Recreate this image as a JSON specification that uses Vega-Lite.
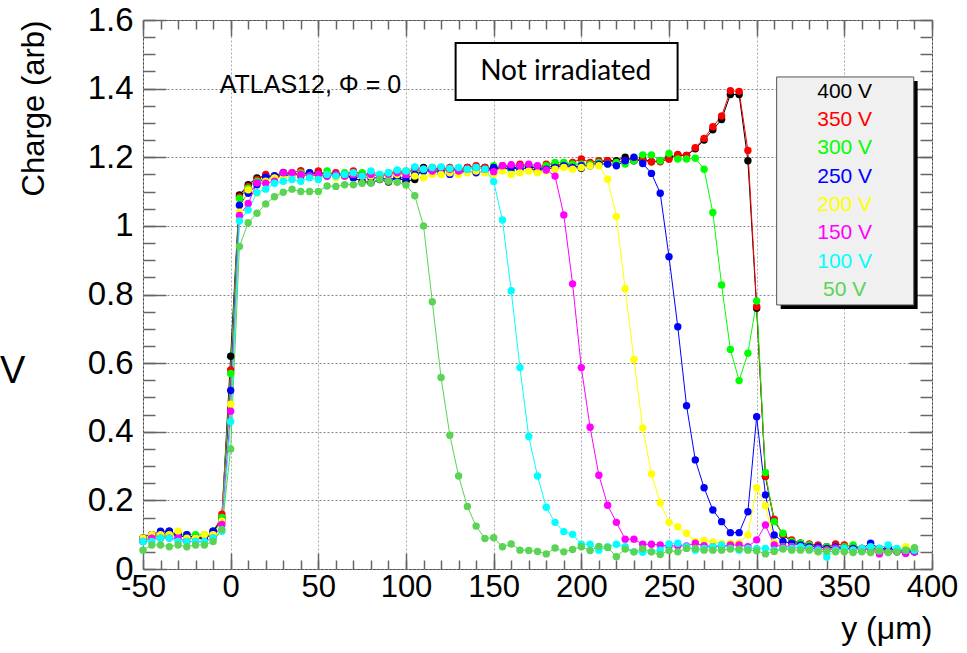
{
"$schema": "https://vega.github.io/schema/vega-lite/v6.json",
"width": 789, "height": 549,
"autosize": "none",
"padding": {"left": 143, "top": 20, "right": 35, "bottom": 84},
"background": "white",
"config": {
  "view": {"stroke": "#444", "strokeWidth": 1},
  "font": "Liberation Sans",
  "axis": {"labelFont": "Liberation Sans", "titleFont": "Liberation Sans", "labelColor": "#000", "titleColor": "#000", "tickColor": "#666", "tickWidth": 1.5, "domain": false}
},
"datasets": {"main": [
{"s":"400 V","x":-50,"c":0.09},{"s":"400 V","x":-45,"c":0.10},{"s":"400 V","x":-40,"c":0.10},{"s":"400 V","x":-35,"c":0.11},{"s":"400 V","x":-30,"c":0.10},{"s":"400 V","x":-25,"c":0.09},{"s":"400 V","x":-20,"c":0.09},{"s":"400 V","x":-15,"c":0.09},{"s":"400 V","x":-10,"c":0.11},{"s":"400 V","x":-5,"c":0.15},
{"s":"400 V","x":0,"c":0.62},{"s":"400 V","x":5,"c":1.09},{"s":"400 V","x":10,"c":1.12},{"s":"400 V","x":15,"c":1.14},{"s":"400 V","x":20,"c":1.145},{"s":"400 V","x":25,"c":1.145},{"s":"400 V","x":30,"c":1.156},{"s":"400 V","x":35,"c":1.15},{"s":"400 V","x":40,"c":1.145},{"s":"400 V","x":45,"c":1.15},
{"s":"400 V","x":50,"c":1.155},{"s":"400 V","x":55,"c":1.15},{"s":"400 V","x":60,"c":1.145},{"s":"400 V","x":65,"c":1.15},{"s":"400 V","x":70,"c":1.14},{"s":"400 V","x":75,"c":1.13},{"s":"400 V","x":80,"c":1.126},{"s":"400 V","x":85,"c":1.135},{"s":"400 V","x":90,"c":1.128},{"s":"400 V","x":95,"c":1.14},
{"s":"400 V","x":100,"c":1.13},{"s":"400 V","x":105,"c":1.135},{"s":"400 V","x":110,"c":1.17},{"s":"400 V","x":115,"c":1.16},{"s":"400 V","x":120,"c":1.165},{"s":"400 V","x":125,"c":1.16},{"s":"400 V","x":130,"c":1.165},{"s":"400 V","x":135,"c":1.17},{"s":"400 V","x":140,"c":1.165},{"s":"400 V","x":145,"c":1.17},
{"s":"400 V","x":150,"c":1.165},{"s":"400 V","x":155,"c":1.17},{"s":"400 V","x":160,"c":1.165},{"s":"400 V","x":165,"c":1.175},{"s":"400 V","x":170,"c":1.17},{"s":"400 V","x":175,"c":1.158},{"s":"400 V","x":180,"c":1.17},{"s":"400 V","x":185,"c":1.175},{"s":"400 V","x":190,"c":1.18},{"s":"400 V","x":195,"c":1.175},
{"s":"400 V","x":200,"c":1.168},{"s":"400 V","x":205,"c":1.18},{"s":"400 V","x":210,"c":1.185},{"s":"400 V","x":215,"c":1.19},{"s":"400 V","x":220,"c":1.19},{"s":"400 V","x":225,"c":1.2},{"s":"400 V","x":230,"c":1.19},{"s":"400 V","x":235,"c":1.195},{"s":"400 V","x":240,"c":1.187},{"s":"400 V","x":245,"c":1.19},
{"s":"400 V","x":250,"c":1.2},{"s":"400 V","x":255,"c":1.206},{"s":"400 V","x":260,"c":1.205},{"s":"400 V","x":265,"c":1.225},{"s":"400 V","x":270,"c":1.25},{"s":"400 V","x":275,"c":1.28},{"s":"400 V","x":280,"c":1.31},{"s":"400 V","x":285,"c":1.383},{"s":"400 V","x":290,"c":1.383},{"s":"400 V","x":295,"c":1.19},
{"s":"400 V","x":300,"c":0.76},{"s":"400 V","x":305,"c":0.27},{"s":"400 V","x":310,"c":0.14},{"s":"400 V","x":315,"c":0.10},{"s":"400 V","x":320,"c":0.08},{"s":"400 V","x":325,"c":0.075},{"s":"400 V","x":330,"c":0.07},{"s":"400 V","x":335,"c":0.065},{"s":"400 V","x":340,"c":0.065},{"s":"400 V","x":345,"c":0.06},
{"s":"400 V","x":350,"c":0.06},{"s":"400 V","x":355,"c":0.06},{"s":"400 V","x":360,"c":0.055},{"s":"400 V","x":365,"c":0.06},{"s":"400 V","x":370,"c":0.055},{"s":"400 V","x":375,"c":0.055},{"s":"400 V","x":380,"c":0.05},{"s":"400 V","x":385,"c":0.055},{"s":"400 V","x":390,"c":0.05},

{"s":"350 V","x":-50,"c":0.09},{"s":"350 V","x":-45,"c":0.10},{"s":"350 V","x":-40,"c":0.10},{"s":"350 V","x":-35,"c":0.10},{"s":"350 V","x":-30,"c":0.10},{"s":"350 V","x":-25,"c":0.10},{"s":"350 V","x":-20,"c":0.09},{"s":"350 V","x":-15,"c":0.09},{"s":"350 V","x":-10,"c":0.10},{"s":"350 V","x":-5,"c":0.16},
{"s":"350 V","x":0,"c":0.58},{"s":"350 V","x":5,"c":1.085},{"s":"350 V","x":10,"c":1.115},{"s":"350 V","x":15,"c":1.135},{"s":"350 V","x":20,"c":1.15},{"s":"350 V","x":25,"c":1.14},{"s":"350 V","x":30,"c":1.15},{"s":"350 V","x":35,"c":1.155},{"s":"350 V","x":40,"c":1.161},{"s":"350 V","x":45,"c":1.15},
{"s":"350 V","x":50,"c":1.16},{"s":"350 V","x":55,"c":1.15},{"s":"350 V","x":60,"c":1.155},{"s":"350 V","x":65,"c":1.15},{"s":"350 V","x":70,"c":1.16},{"s":"350 V","x":75,"c":1.15},{"s":"350 V","x":80,"c":1.15},{"s":"350 V","x":85,"c":1.145},{"s":"350 V","x":90,"c":1.15},{"s":"350 V","x":95,"c":1.16},
{"s":"350 V","x":100,"c":1.155},{"s":"350 V","x":105,"c":1.165},{"s":"350 V","x":110,"c":1.16},{"s":"350 V","x":115,"c":1.17},{"s":"350 V","x":120,"c":1.165},{"s":"350 V","x":125,"c":1.17},{"s":"350 V","x":130,"c":1.165},{"s":"350 V","x":135,"c":1.17},{"s":"350 V","x":140,"c":1.175},{"s":"350 V","x":145,"c":1.17},
{"s":"350 V","x":150,"c":1.165},{"s":"350 V","x":155,"c":1.175},{"s":"350 V","x":160,"c":1.17},{"s":"350 V","x":165,"c":1.18},{"s":"350 V","x":170,"c":1.175},{"s":"350 V","x":175,"c":1.17},{"s":"350 V","x":180,"c":1.18},{"s":"350 V","x":185,"c":1.18},{"s":"350 V","x":190,"c":1.175},{"s":"350 V","x":195,"c":1.185},
{"s":"350 V","x":200,"c":1.195},{"s":"350 V","x":205,"c":1.185},{"s":"350 V","x":210,"c":1.19},{"s":"350 V","x":215,"c":1.19},{"s":"350 V","x":220,"c":1.185},{"s":"350 V","x":225,"c":1.19},{"s":"350 V","x":230,"c":1.195},{"s":"350 V","x":235,"c":1.19},{"s":"350 V","x":240,"c":1.187},{"s":"350 V","x":245,"c":1.187},
{"s":"350 V","x":250,"c":1.194},{"s":"350 V","x":255,"c":1.208},{"s":"350 V","x":260,"c":1.205},{"s":"350 V","x":265,"c":1.228},{"s":"350 V","x":270,"c":1.255},{"s":"350 V","x":275,"c":1.289},{"s":"350 V","x":280,"c":1.32},{"s":"350 V","x":285,"c":1.394},{"s":"350 V","x":290,"c":1.392},{"s":"350 V","x":295,"c":1.22},
{"s":"350 V","x":300,"c":0.765},{"s":"350 V","x":305,"c":0.27},{"s":"350 V","x":310,"c":0.145},{"s":"350 V","x":315,"c":0.10},{"s":"350 V","x":320,"c":0.085},{"s":"350 V","x":325,"c":0.075},{"s":"350 V","x":330,"c":0.073},{"s":"350 V","x":335,"c":0.07},{"s":"350 V","x":340,"c":0.065},{"s":"350 V","x":345,"c":0.073},
{"s":"350 V","x":350,"c":0.07},{"s":"350 V","x":355,"c":0.065},{"s":"350 V","x":360,"c":0.06},{"s":"350 V","x":365,"c":0.06},{"s":"350 V","x":370,"c":0.055},{"s":"350 V","x":375,"c":0.06},{"s":"350 V","x":380,"c":0.055},{"s":"350 V","x":385,"c":0.05},{"s":"350 V","x":390,"c":0.055},

{"s":"300 V","x":-50,"c":0.08},{"s":"300 V","x":-45,"c":0.10},{"s":"300 V","x":-40,"c":0.09},{"s":"300 V","x":-35,"c":0.10},{"s":"300 V","x":-30,"c":0.10},{"s":"300 V","x":-25,"c":0.10},{"s":"300 V","x":-20,"c":0.10},{"s":"300 V","x":-15,"c":0.10},{"s":"300 V","x":-10,"c":0.10},{"s":"300 V","x":-5,"c":0.15},
{"s":"300 V","x":0,"c":0.57},{"s":"300 V","x":5,"c":1.08},{"s":"300 V","x":10,"c":1.11},{"s":"300 V","x":15,"c":1.13},{"s":"300 V","x":20,"c":1.14},{"s":"300 V","x":25,"c":1.145},{"s":"300 V","x":30,"c":1.15},{"s":"300 V","x":35,"c":1.15},{"s":"300 V","x":40,"c":1.155},{"s":"300 V","x":45,"c":1.155},
{"s":"300 V","x":50,"c":1.15},{"s":"300 V","x":55,"c":1.16},{"s":"300 V","x":60,"c":1.15},{"s":"300 V","x":65,"c":1.155},{"s":"300 V","x":70,"c":1.15},{"s":"300 V","x":75,"c":1.155},{"s":"300 V","x":80,"c":1.15},{"s":"300 V","x":85,"c":1.15},{"s":"300 V","x":90,"c":1.155},{"s":"300 V","x":95,"c":1.15},
{"s":"300 V","x":100,"c":1.16},{"s":"300 V","x":105,"c":1.155},{"s":"300 V","x":110,"c":1.16},{"s":"300 V","x":115,"c":1.165},{"s":"300 V","x":120,"c":1.16},{"s":"300 V","x":125,"c":1.165},{"s":"300 V","x":130,"c":1.16},{"s":"300 V","x":135,"c":1.165},{"s":"300 V","x":140,"c":1.17},{"s":"300 V","x":145,"c":1.165},
{"s":"300 V","x":150,"c":1.175},{"s":"300 V","x":155,"c":1.17},{"s":"300 V","x":160,"c":1.165},{"s":"300 V","x":165,"c":1.17},{"s":"300 V","x":170,"c":1.175},{"s":"300 V","x":175,"c":1.17},{"s":"300 V","x":180,"c":1.175},{"s":"300 V","x":185,"c":1.185},{"s":"300 V","x":190,"c":1.185},{"s":"300 V","x":195,"c":1.18},
{"s":"300 V","x":200,"c":1.18},{"s":"300 V","x":205,"c":1.18},{"s":"300 V","x":210,"c":1.185},{"s":"300 V","x":215,"c":1.18},{"s":"300 V","x":220,"c":1.185},{"s":"300 V","x":225,"c":1.18},{"s":"300 V","x":230,"c":1.19},{"s":"300 V","x":235,"c":1.207},{"s":"300 V","x":240,"c":1.207},{"s":"300 V","x":245,"c":1.19},
{"s":"300 V","x":250,"c":1.211},{"s":"300 V","x":255,"c":1.195},{"s":"300 V","x":260,"c":1.195},{"s":"300 V","x":265,"c":1.197},{"s":"300 V","x":270,"c":1.165},{"s":"300 V","x":275,"c":1.039},{"s":"300 V","x":280,"c":0.828},{"s":"300 V","x":285,"c":0.64},{"s":"300 V","x":290,"c":0.549},{"s":"300 V","x":295,"c":0.629},
{"s":"300 V","x":300,"c":0.781},{"s":"300 V","x":305,"c":0.281},{"s":"300 V","x":310,"c":0.138},{"s":"300 V","x":315,"c":0.104},{"s":"300 V","x":320,"c":0.08},{"s":"300 V","x":325,"c":0.075},{"s":"300 V","x":330,"c":0.07},{"s":"300 V","x":335,"c":0.065},{"s":"300 V","x":340,"c":0.065},{"s":"300 V","x":345,"c":0.065},
{"s":"300 V","x":350,"c":0.065},{"s":"300 V","x":355,"c":0.07},{"s":"300 V","x":360,"c":0.06},{"s":"300 V","x":365,"c":0.06},{"s":"300 V","x":370,"c":0.055},{"s":"300 V","x":375,"c":0.055},{"s":"300 V","x":380,"c":0.055},{"s":"300 V","x":385,"c":0.05},{"s":"300 V","x":390,"c":0.05},

{"s":"250 V","x":-50,"c":0.09},{"s":"250 V","x":-45,"c":0.10},{"s":"250 V","x":-40,"c":0.11},{"s":"250 V","x":-35,"c":0.11},{"s":"250 V","x":-30,"c":0.10},{"s":"250 V","x":-25,"c":0.10},{"s":"250 V","x":-20,"c":0.09},{"s":"250 V","x":-15,"c":0.09},{"s":"250 V","x":-10,"c":0.11},{"s":"250 V","x":-5,"c":0.14},
{"s":"250 V","x":0,"c":0.52},{"s":"250 V","x":5,"c":1.06},{"s":"250 V","x":10,"c":1.095},{"s":"250 V","x":15,"c":1.12},{"s":"250 V","x":20,"c":1.142},{"s":"250 V","x":25,"c":1.146},{"s":"250 V","x":30,"c":1.145},{"s":"250 V","x":35,"c":1.15},{"s":"250 V","x":40,"c":1.15},{"s":"250 V","x":45,"c":1.155},
{"s":"250 V","x":50,"c":1.15},{"s":"250 V","x":55,"c":1.145},{"s":"250 V","x":60,"c":1.15},{"s":"250 V","x":65,"c":1.145},{"s":"250 V","x":70,"c":1.14},{"s":"250 V","x":75,"c":1.145},{"s":"250 V","x":80,"c":1.14},{"s":"250 V","x":85,"c":1.14},{"s":"250 V","x":90,"c":1.135},{"s":"250 V","x":95,"c":1.14},
{"s":"250 V","x":100,"c":1.14},{"s":"250 V","x":105,"c":1.15},{"s":"250 V","x":110,"c":1.16},{"s":"250 V","x":115,"c":1.16},{"s":"250 V","x":120,"c":1.155},{"s":"250 V","x":125,"c":1.15},{"s":"250 V","x":130,"c":1.155},{"s":"250 V","x":135,"c":1.16},{"s":"250 V","x":140,"c":1.155},{"s":"250 V","x":145,"c":1.16},
{"s":"250 V","x":150,"c":1.17},{"s":"250 V","x":155,"c":1.165},{"s":"250 V","x":160,"c":1.17},{"s":"250 V","x":165,"c":1.165},{"s":"250 V","x":170,"c":1.17},{"s":"250 V","x":175,"c":1.17},{"s":"250 V","x":180,"c":1.165},{"s":"250 V","x":185,"c":1.17},{"s":"250 V","x":190,"c":1.175},{"s":"250 V","x":195,"c":1.17},
{"s":"250 V","x":200,"c":1.175},{"s":"250 V","x":205,"c":1.175},{"s":"250 V","x":210,"c":1.18},{"s":"250 V","x":215,"c":1.18},{"s":"250 V","x":220,"c":1.175},{"s":"250 V","x":225,"c":1.19},{"s":"250 V","x":230,"c":1.2},{"s":"250 V","x":235,"c":1.182},{"s":"250 V","x":240,"c":1.153},{"s":"250 V","x":245,"c":1.095},
{"s":"250 V","x":250,"c":0.91},{"s":"250 V","x":255,"c":0.706},{"s":"250 V","x":260,"c":0.476},{"s":"250 V","x":265,"c":0.318},{"s":"250 V","x":270,"c":0.237},{"s":"250 V","x":275,"c":0.172},{"s":"250 V","x":280,"c":0.138},{"s":"250 V","x":285,"c":0.106},{"s":"250 V","x":290,"c":0.106},{"s":"250 V","x":295,"c":0.167},
{"s":"250 V","x":300,"c":0.444},{"s":"250 V","x":305,"c":0.216},{"s":"250 V","x":310,"c":0.099},{"s":"250 V","x":315,"c":0.08},{"s":"250 V","x":320,"c":0.075},{"s":"250 V","x":325,"c":0.07},{"s":"250 V","x":330,"c":0.065},{"s":"250 V","x":335,"c":0.065},{"s":"250 V","x":340,"c":0.06},{"s":"250 V","x":345,"c":0.065},
{"s":"250 V","x":350,"c":0.06},{"s":"250 V","x":355,"c":0.06},{"s":"250 V","x":360,"c":0.06},{"s":"250 V","x":365,"c":0.075},{"s":"250 V","x":370,"c":0.06},{"s":"250 V","x":375,"c":0.06},{"s":"250 V","x":380,"c":0.055},{"s":"250 V","x":385,"c":0.055},{"s":"250 V","x":390,"c":0.05},

{"s":"200 V","x":-50,"c":0.09},{"s":"200 V","x":-45,"c":0.10},{"s":"200 V","x":-40,"c":0.10},{"s":"200 V","x":-35,"c":0.10},{"s":"200 V","x":-30,"c":0.11},{"s":"200 V","x":-25,"c":0.09},{"s":"200 V","x":-20,"c":0.09},{"s":"200 V","x":-15,"c":0.10},{"s":"200 V","x":-10,"c":0.10},{"s":"200 V","x":-5,"c":0.14},
{"s":"200 V","x":0,"c":0.48},{"s":"200 V","x":5,"c":1.04},{"s":"200 V","x":10,"c":1.105},{"s":"200 V","x":15,"c":1.095},{"s":"200 V","x":20,"c":1.13},{"s":"200 V","x":25,"c":1.14},{"s":"200 V","x":30,"c":1.14},{"s":"200 V","x":35,"c":1.145},{"s":"200 V","x":40,"c":1.15},{"s":"200 V","x":45,"c":1.145},
{"s":"200 V","x":50,"c":1.14},{"s":"200 V","x":55,"c":1.15},{"s":"200 V","x":60,"c":1.14},{"s":"200 V","x":65,"c":1.145},{"s":"200 V","x":70,"c":1.15},{"s":"200 V","x":75,"c":1.145},{"s":"200 V","x":80,"c":1.145},{"s":"200 V","x":85,"c":1.15},{"s":"200 V","x":90,"c":1.145},{"s":"200 V","x":95,"c":1.15},
{"s":"200 V","x":100,"c":1.15},{"s":"200 V","x":105,"c":1.145},{"s":"200 V","x":110,"c":1.14},{"s":"200 V","x":115,"c":1.15},{"s":"200 V","x":120,"c":1.15},{"s":"200 V","x":125,"c":1.155},{"s":"200 V","x":130,"c":1.15},{"s":"200 V","x":135,"c":1.155},{"s":"200 V","x":140,"c":1.16},{"s":"200 V","x":145,"c":1.155},
{"s":"200 V","x":150,"c":1.15},{"s":"200 V","x":155,"c":1.16},{"s":"200 V","x":160,"c":1.15},{"s":"200 V","x":165,"c":1.155},{"s":"200 V","x":170,"c":1.16},{"s":"200 V","x":175,"c":1.155},{"s":"200 V","x":180,"c":1.16},{"s":"200 V","x":185,"c":1.165},{"s":"200 V","x":190,"c":1.17},{"s":"200 V","x":195,"c":1.165},
{"s":"200 V","x":200,"c":1.17},{"s":"200 V","x":205,"c":1.175},{"s":"200 V","x":210,"c":1.175},{"s":"200 V","x":215,"c":1.136},{"s":"200 V","x":220,"c":1.027},{"s":"200 V","x":225,"c":0.817},{"s":"200 V","x":230,"c":0.611},{"s":"200 V","x":235,"c":0.411},{"s":"200 V","x":240,"c":0.277},{"s":"200 V","x":245,"c":0.193},
{"s":"200 V","x":250,"c":0.136},{"s":"200 V","x":255,"c":0.123},{"s":"200 V","x":260,"c":0.104},{"s":"200 V","x":265,"c":0.08},{"s":"200 V","x":270,"c":0.083},{"s":"200 V","x":275,"c":0.079},{"s":"200 V","x":280,"c":0.075},{"s":"200 V","x":285,"c":0.075},{"s":"200 V","x":290,"c":0.076},{"s":"200 V","x":295,"c":0.099},
{"s":"200 V","x":300,"c":0.237},{"s":"200 V","x":305,"c":0.184},{"s":"200 V","x":310,"c":0.076},{"s":"200 V","x":315,"c":0.065},{"s":"200 V","x":320,"c":0.065},{"s":"200 V","x":325,"c":0.06},{"s":"200 V","x":330,"c":0.06},{"s":"200 V","x":335,"c":0.055},{"s":"200 V","x":340,"c":0.055},{"s":"200 V","x":345,"c":0.06},
{"s":"200 V","x":350,"c":0.055},{"s":"200 V","x":355,"c":0.055},{"s":"200 V","x":360,"c":0.06},{"s":"200 V","x":365,"c":0.055},{"s":"200 V","x":370,"c":0.055},{"s":"200 V","x":375,"c":0.05},{"s":"200 V","x":380,"c":0.055},{"s":"200 V","x":385,"c":0.065},{"s":"200 V","x":390,"c":0.06},

{"s":"150 V","x":-50,"c":0.08},{"s":"150 V","x":-45,"c":0.09},{"s":"150 V","x":-40,"c":0.09},{"s":"150 V","x":-35,"c":0.09},{"s":"150 V","x":-30,"c":0.09},{"s":"150 V","x":-25,"c":0.08},{"s":"150 V","x":-20,"c":0.08},{"s":"150 V","x":-15,"c":0.08},{"s":"150 V","x":-10,"c":0.09},{"s":"150 V","x":-5,"c":0.13},
{"s":"150 V","x":0,"c":0.46},{"s":"150 V","x":5,"c":1.03},{"s":"150 V","x":10,"c":1.065},{"s":"150 V","x":15,"c":1.125},{"s":"150 V","x":20,"c":1.124},{"s":"150 V","x":25,"c":1.13},{"s":"150 V","x":30,"c":1.155},{"s":"150 V","x":35,"c":1.155},{"s":"150 V","x":40,"c":1.15},{"s":"150 V","x":45,"c":1.145},
{"s":"150 V","x":50,"c":1.15},{"s":"150 V","x":55,"c":1.145},{"s":"150 V","x":60,"c":1.15},{"s":"150 V","x":65,"c":1.145},{"s":"150 V","x":70,"c":1.15},{"s":"150 V","x":75,"c":1.145},{"s":"150 V","x":80,"c":1.15},{"s":"150 V","x":85,"c":1.145},{"s":"150 V","x":90,"c":1.15},{"s":"150 V","x":95,"c":1.155},
{"s":"150 V","x":100,"c":1.15},{"s":"150 V","x":105,"c":1.17},{"s":"150 V","x":110,"c":1.165},{"s":"150 V","x":115,"c":1.16},{"s":"150 V","x":120,"c":1.17},{"s":"150 V","x":125,"c":1.165},{"s":"150 V","x":130,"c":1.16},{"s":"150 V","x":135,"c":1.165},{"s":"150 V","x":140,"c":1.17},{"s":"150 V","x":145,"c":1.165},
{"s":"150 V","x":150,"c":1.158},{"s":"150 V","x":155,"c":1.175},{"s":"150 V","x":160,"c":1.178},{"s":"150 V","x":165,"c":1.175},{"s":"150 V","x":170,"c":1.18},{"s":"150 V","x":175,"c":1.175},{"s":"150 V","x":180,"c":1.163},{"s":"150 V","x":185,"c":1.145},{"s":"150 V","x":190,"c":1.032},{"s":"150 V","x":195,"c":0.831},
{"s":"150 V","x":200,"c":0.587},{"s":"150 V","x":205,"c":0.413},{"s":"150 V","x":210,"c":0.273},{"s":"150 V","x":215,"c":0.186},{"s":"150 V","x":220,"c":0.136},{"s":"150 V","x":225,"c":0.087},{"s":"150 V","x":230,"c":0.087},{"s":"150 V","x":235,"c":0.072},{"s":"150 V","x":240,"c":0.072},{"s":"150 V","x":245,"c":0.07},
{"s":"150 V","x":250,"c":0.067},{"s":"150 V","x":255,"c":0.068},{"s":"150 V","x":260,"c":0.067},{"s":"150 V","x":265,"c":0.075},{"s":"150 V","x":270,"c":0.068},{"s":"150 V","x":275,"c":0.065},{"s":"150 V","x":280,"c":0.066},{"s":"150 V","x":285,"c":0.07},{"s":"150 V","x":290,"c":0.07},{"s":"150 V","x":295,"c":0.065},
{"s":"150 V","x":300,"c":0.085},{"s":"150 V","x":305,"c":0.128},{"s":"150 V","x":310,"c":0.07},{"s":"150 V","x":315,"c":0.065},{"s":"150 V","x":320,"c":0.065},{"s":"150 V","x":325,"c":0.06},{"s":"150 V","x":330,"c":0.06},{"s":"150 V","x":335,"c":0.06},{"s":"150 V","x":340,"c":0.055},{"s":"150 V","x":345,"c":0.06},
{"s":"150 V","x":350,"c":0.06},{"s":"150 V","x":355,"c":0.055},{"s":"150 V","x":360,"c":0.06},{"s":"150 V","x":365,"c":0.055},{"s":"150 V","x":370,"c":0.044},{"s":"150 V","x":375,"c":0.05},{"s":"150 V","x":380,"c":0.05},{"s":"150 V","x":385,"c":0.045},{"s":"150 V","x":390,"c":0.05},

{"s":"100 V","x":-50,"c":0.08},{"s":"100 V","x":-45,"c":0.08},{"s":"100 V","x":-40,"c":0.09},{"s":"100 V","x":-35,"c":0.09},{"s":"100 V","x":-30,"c":0.08},{"s":"100 V","x":-25,"c":0.08},{"s":"100 V","x":-20,"c":0.08},{"s":"100 V","x":-15,"c":0.08},{"s":"100 V","x":-10,"c":0.09},{"s":"100 V","x":-5,"c":0.11},
{"s":"100 V","x":0,"c":0.43},{"s":"100 V","x":5,"c":1.014},{"s":"100 V","x":10,"c":1.046},{"s":"100 V","x":15,"c":1.097},{"s":"100 V","x":20,"c":1.107},{"s":"100 V","x":25,"c":1.124},{"s":"100 V","x":30,"c":1.13},{"s":"100 V","x":35,"c":1.135},{"s":"100 V","x":40,"c":1.13},{"s":"100 V","x":45,"c":1.14},
{"s":"100 V","x":50,"c":1.135},{"s":"100 V","x":55,"c":1.15},{"s":"100 V","x":60,"c":1.145},{"s":"100 V","x":65,"c":1.15},{"s":"100 V","x":70,"c":1.155},{"s":"100 V","x":75,"c":1.145},{"s":"100 V","x":80,"c":1.16},{"s":"100 V","x":85,"c":1.15},{"s":"100 V","x":90,"c":1.155},{"s":"100 V","x":95,"c":1.163},
{"s":"100 V","x":100,"c":1.16},{"s":"100 V","x":105,"c":1.172},{"s":"100 V","x":110,"c":1.165},{"s":"100 V","x":115,"c":1.17},{"s":"100 V","x":120,"c":1.172},{"s":"100 V","x":125,"c":1.167},{"s":"100 V","x":130,"c":1.17},{"s":"100 V","x":135,"c":1.165},{"s":"100 V","x":140,"c":1.17},{"s":"100 V","x":145,"c":1.165},
{"s":"100 V","x":150,"c":1.129},{"s":"100 V","x":155,"c":1.017},{"s":"100 V","x":160,"c":0.811},{"s":"100 V","x":165,"c":0.587},{"s":"100 V","x":170,"c":0.386},{"s":"100 V","x":175,"c":0.271},{"s":"100 V","x":180,"c":0.18},{"s":"100 V","x":185,"c":0.136},{"s":"100 V","x":190,"c":0.109},{"s":"100 V","x":195,"c":0.101},
{"s":"100 V","x":200,"c":0.072},{"s":"100 V","x":205,"c":0.072},{"s":"100 V","x":210,"c":0.055},{"s":"100 V","x":215,"c":0.065},{"s":"100 V","x":220,"c":0.072},{"s":"100 V","x":225,"c":0.065},{"s":"100 V","x":230,"c":0.05},{"s":"100 V","x":235,"c":0.049},{"s":"100 V","x":240,"c":0.05},{"s":"100 V","x":245,"c":0.055},
{"s":"100 V","x":250,"c":0.073},{"s":"100 V","x":255,"c":0.075},{"s":"100 V","x":260,"c":0.065},{"s":"100 V","x":265,"c":0.055},{"s":"100 V","x":270,"c":0.06},{"s":"100 V","x":275,"c":0.065},{"s":"100 V","x":280,"c":0.07},{"s":"100 V","x":285,"c":0.06},{"s":"100 V","x":290,"c":0.055},{"s":"100 V","x":295,"c":0.06},
{"s":"100 V","x":300,"c":0.06},{"s":"100 V","x":305,"c":0.06},{"s":"100 V","x":310,"c":0.055},{"s":"100 V","x":315,"c":0.06},{"s":"100 V","x":320,"c":0.06},{"s":"100 V","x":325,"c":0.065},{"s":"100 V","x":330,"c":0.06},{"s":"100 V","x":335,"c":0.055},{"s":"100 V","x":340,"c":0.035},{"s":"100 V","x":345,"c":0.055},
{"s":"100 V","x":350,"c":0.06},{"s":"100 V","x":355,"c":0.055},{"s":"100 V","x":360,"c":0.06},{"s":"100 V","x":365,"c":0.065},{"s":"100 V","x":370,"c":0.06},{"s":"100 V","x":375,"c":0.07},{"s":"100 V","x":380,"c":0.06},{"s":"100 V","x":385,"c":0.055},{"s":"100 V","x":390,"c":0.055},

{"s":"50 V","x":-50,"c":0.055},{"s":"50 V","x":-45,"c":0.07},{"s":"50 V","x":-40,"c":0.07},{"s":"50 V","x":-35,"c":0.065},{"s":"50 V","x":-30,"c":0.07},{"s":"50 V","x":-25,"c":0.065},{"s":"50 V","x":-20,"c":0.07},{"s":"50 V","x":-15,"c":0.07},{"s":"50 V","x":-10,"c":0.08},{"s":"50 V","x":-5,"c":0.115},
{"s":"50 V","x":0,"c":0.35},{"s":"50 V","x":5,"c":0.94},{"s":"50 V","x":10,"c":1.009},{"s":"50 V","x":15,"c":1.037},{"s":"50 V","x":20,"c":1.064},{"s":"50 V","x":25,"c":1.085},{"s":"50 V","x":30,"c":1.098},{"s":"50 V","x":35,"c":1.107},{"s":"50 V","x":40,"c":1.10},{"s":"50 V","x":45,"c":1.10},
{"s":"50 V","x":50,"c":1.10},{"s":"50 V","x":55,"c":1.116},{"s":"50 V","x":60,"c":1.115},{"s":"50 V","x":65,"c":1.12},{"s":"50 V","x":70,"c":1.12},{"s":"50 V","x":75,"c":1.124},{"s":"50 V","x":80,"c":1.125},{"s":"50 V","x":85,"c":1.136},{"s":"50 V","x":90,"c":1.13},{"s":"50 V","x":95,"c":1.127},
{"s":"50 V","x":100,"c":1.119},{"s":"50 V","x":105,"c":1.088},{"s":"50 V","x":110,"c":1.0},{"s":"50 V","x":115,"c":0.779},{"s":"50 V","x":120,"c":0.558},{"s":"50 V","x":125,"c":0.39},{"s":"50 V","x":130,"c":0.271},{"s":"50 V","x":135,"c":0.182},{"s":"50 V","x":140,"c":0.125},{"s":"50 V","x":145,"c":0.089},
{"s":"50 V","x":150,"c":0.091},{"s":"50 V","x":155,"c":0.065},{"s":"50 V","x":160,"c":0.073},{"s":"50 V","x":165,"c":0.055},{"s":"50 V","x":170,"c":0.054},{"s":"50 V","x":175,"c":0.051},{"s":"50 V","x":180,"c":0.044},{"s":"50 V","x":185,"c":0.061},{"s":"50 V","x":190,"c":0.05},{"s":"50 V","x":195,"c":0.057},
{"s":"50 V","x":200,"c":0.065},{"s":"50 V","x":205,"c":0.054},{"s":"50 V","x":210,"c":0.066},{"s":"50 V","x":215,"c":0.063},{"s":"50 V","x":220,"c":0.036},{"s":"50 V","x":225,"c":0.058},{"s":"50 V","x":230,"c":0.05},{"s":"50 V","x":235,"c":0.059},{"s":"50 V","x":240,"c":0.05},{"s":"50 V","x":245,"c":0.042},
{"s":"50 V","x":250,"c":0.054},{"s":"50 V","x":255,"c":0.05},{"s":"50 V","x":260,"c":0.06},{"s":"50 V","x":265,"c":0.06},{"s":"50 V","x":270,"c":0.055},{"s":"50 V","x":275,"c":0.055},{"s":"50 V","x":280,"c":0.055},{"s":"50 V","x":285,"c":0.058},{"s":"50 V","x":290,"c":0.058},{"s":"50 V","x":295,"c":0.055},
{"s":"50 V","x":300,"c":0.053},{"s":"50 V","x":305,"c":0.044},{"s":"50 V","x":310,"c":0.051},{"s":"50 V","x":315,"c":0.058},{"s":"50 V","x":320,"c":0.055},{"s":"50 V","x":325,"c":0.055},{"s":"50 V","x":330,"c":0.055},{"s":"50 V","x":335,"c":0.05},{"s":"50 V","x":340,"c":0.052},{"s":"50 V","x":345,"c":0.05},
{"s":"50 V","x":350,"c":0.05},{"s":"50 V","x":355,"c":0.048},{"s":"50 V","x":360,"c":0.05},{"s":"50 V","x":365,"c":0.048},{"s":"50 V","x":370,"c":0.052},{"s":"50 V","x":375,"c":0.048},{"s":"50 V","x":380,"c":0.05},{"s":"50 V","x":385,"c":0.055},{"s":"50 V","x":390,"c":0.062}
]},
"layer": [
{
  "data": {"name": "main"},
  "mark": {"type": "line", "strokeWidth": 1},
  "encoding": {
    "x": {"field": "x", "type": "quantitative", "scale": {"domain": [-50, 400], "nice": false, "zero": false},
      "axis": {"orient": "bottom", "values": [-50,0,50,100,150,200,250,300,350,400], "ticks": false, "tickSize": 0, "labels": true, "labelFontSize": 31, "labelPadding": 3, "labelExpr": "'' + datum.value", "labelOverlap": false, "labelFlush": false, "grid": true, "gridColor": "#aaa", "gridDash": [2, 2], "gridWidth": 1, "title": "y (μm)", "titleFontSize": 32, "titleFontWeight": "normal", "titleAlign": "right", "titleX": 789, "titleY": 69, "titleBaseline": "alphabetic"}},
    "y": {"field": "c", "type": "quantitative", "scale": {"domain": [0, 1.6], "nice": false, "zero": false},
      "axis": {"orient": "left", "values": [0,0.2,0.4,0.6,0.8,1,1.2,1.4,1.6], "ticks": false, "tickSize": 0, "labels": true, "labelFontSize": 33, "labelPadding": 10, "labelExpr": "'' + datum.value", "labelOverlap": false, "labelFlush": false, "grid": true, "gridColor": "#888", "gridDash": [2, 2], "gridWidth": 1, "title": "Charge (arb)", "titleFontSize": 31, "titleFontWeight": "normal", "titleAngle": 270, "titleX": -109, "titleY": 88, "titleAlign": "center", "titleBaseline": "middle"}},
    "color": {"field": "s", "type": "nominal",
      "scale": {"domain": ["400 V","350 V","300 V","250 V","200 V","150 V","100 V","50 V"], "range": ["#000000","#ff0000","#00ff00","#0000ff","#ffff00","#ff00ff","#00ffff","#59d454"]},
      "legend": null}
  }
},
{
  "data": {"name": "main"},
  "mark": {"type": "circle", "size": 55, "opacity": 1},
  "encoding": {
    "x": {"field": "x", "type": "quantitative", "scale": {"domain": [-50, 400], "nice": false, "zero": false},
      "axis": {"orient": "bottom", "values": [-50,0,50,100,150,200,250,300,350,400], "offset": -16, "tickSize": 16, "ticks": true, "labels": false, "grid": false, "domain": false, "title": null}},
    "y": {"field": "c", "type": "quantitative", "scale": {"domain": [0, 1.6], "nice": false, "zero": false},
      "axis": {"orient": "left", "values": [0,0.2,0.4,0.6,0.8,1,1.2,1.4,1.6], "offset": -23, "tickSize": 23, "ticks": true, "labels": false, "grid": false, "domain": false, "title": null}},
    "color": {"field": "s", "type": "nominal",
      "scale": {"domain": ["400 V","350 V","300 V","250 V","200 V","150 V","100 V","50 V"], "range": ["#000000","#ff0000","#00ff00","#0000ff","#ffff00","#ff00ff","#00ffff","#59d454"]},
      "legend": null}
  }
},
{
  "data": {"values": [{}]},
  "mark": {"type": "rect", "fill": "white", "stroke": "black", "strokeWidth": 2},
  "encoding": {
    "x": {"datum": 128.3, "type": "quantitative", "scale": {"domain": [-50, 400], "nice": false, "zero": false},
      "axis": {"orient": "bottom", "values": [-50,-40,-30,-20,-10,0,10,20,30,40,50,60,70,80,90,100,110,120,130,140,150,160,170,180,190,200,210,220,230,240,250,260,270,280,290,300,310,320,330,340,350,360,370,380,390,400], "offset": -9, "tickSize": 9, "ticks": true, "labels": false, "grid": false, "domain": false, "title": null}},
    "x2": {"datum": 254.9},
    "y": {"datum": 1.533, "type": "quantitative", "scale": {"domain": [0, 1.6], "nice": false, "zero": false},
      "axis": {"orient": "left", "values": [0,0.05,0.1,0.15,0.2,0.25,0.3,0.35,0.4,0.45,0.5,0.55,0.6,0.65,0.7,0.75,0.8,0.85,0.9,0.95,1,1.05,1.1,1.15,1.2,1.25,1.3,1.35,1.4,1.45,1.5,1.55,1.6], "offset": -12, "tickSize": 12, "ticks": true, "labels": false, "grid": false, "domain": false, "title": null}},
    "y2": {"datum": 1.367}
  }
},
{
  "data": {"values": [{}]},
  "mark": {"type": "text", "font": "Lato", "fontSize": 28, "align": "center", "baseline": "middle", "color": "black"},
  "encoding": {
    "x": {"datum": 191.1, "type": "quantitative", "scale": {"domain": [-50, 400], "nice": false, "zero": false},
      "axis": {"orient": "top", "values": [-50,0,50,100,150,200,250,300,350,400], "offset": -16, "tickSize": 16, "ticks": true, "labels": false, "grid": false, "domain": false, "title": null}},
    "y": {"datum": 1.449, "type": "quantitative", "scale": {"domain": [0, 1.6], "nice": false, "zero": false},
      "axis": {"orient": "right", "values": [0,0.2,0.4,0.6,0.8,1,1.2,1.4,1.6], "offset": -23, "tickSize": 23, "ticks": true, "labels": false, "grid": false, "domain": false, "title": null}},
    "text": {"value": "Not irradiated"}
  }
},
{
  "data": {"values": [{}]},
  "mark": {"type": "text", "font": "Liberation Sans", "fontSize": 25, "align": "center", "baseline": "middle", "color": "black"},
  "encoding": {
    "x": {"datum": 45.5, "type": "quantitative", "scale": {"domain": [-50, 400], "nice": false, "zero": false},
      "axis": {"orient": "top", "values": [-50,-40,-30,-20,-10,0,10,20,30,40,50,60,70,80,90,100,110,120,130,140,150,160,170,180,190,200,210,220,230,240,250,260,270,280,290,300,310,320,330,340,350,360,370,380,390,400], "offset": -9, "tickSize": 9, "ticks": true, "labels": false, "grid": false, "domain": false, "title": null}},
    "y": {"datum": 1.411, "type": "quantitative", "scale": {"domain": [0, 1.6], "nice": false, "zero": false},
      "axis": {"orient": "right", "values": [0,0.05,0.1,0.15,0.2,0.25,0.3,0.35,0.4,0.45,0.5,0.55,0.6,0.65,0.7,0.75,0.8,0.85,0.9,0.95,1,1.05,1.1,1.15,1.2,1.25,1.3,1.35,1.4,1.45,1.5,1.55,1.6], "offset": -12, "tickSize": 12, "ticks": true, "labels": false, "grid": false, "domain": false, "title": null}},
    "text": {"value": "ATLAS12, Φ = 0"}
  }
},
{
  "data": {"values": [{}]},
  "mark": {"type": "rect", "fill": "black"},
  "encoding": {
    "x": {"datum": 313.7, "type": "quantitative", "scale": {"domain": [-50, 400], "nice": false, "zero": false}, "axis": null},
    "x2": {"datum": 391.8},
    "y": {"datum": 1.4223, "type": "quantitative", "scale": {"domain": [0, 1.6], "nice": false, "zero": false}, "axis": null},
    "y2": {"datum": 0.7578}
  }
},
{
  "data": {"values": [{}]},
  "mark": {"type": "rect", "fill": "#f0f0f0", "stroke": "#555", "strokeWidth": 1},
  "encoding": {
    "x": {"datum": 311.4, "type": "quantitative", "scale": {"domain": [-50, 400], "nice": false, "zero": false}, "axis": null},
    "x2": {"datum": 389.6},
    "y": {"datum": 1.434, "type": "quantitative", "scale": {"domain": [0, 1.6], "nice": false, "zero": false}, "axis": null},
    "y2": {"datum": 0.7695}
  }
},
{
  "data": {"values": [{"s":"400 V"},{"s":"350 V"},{"s":"300 V"},{"s":"250 V"},{"s":"200 V"},{"s":"150 V"},{"s":"100 V"},{"s":"50 V"}]},
  "mark": {"type": "text", "font": "Liberation Sans", "fontSize": 21, "align": "center", "baseline": "middle"},
  "encoding": {
    "x": {"datum": 350.2, "type": "quantitative", "scale": {"domain": [-50, 400], "nice": false, "zero": false}, "axis": null},
    "y": {"field": "s", "type": "nominal", "scale": {"type": "point", "domain": ["400 V","350 V","300 V","250 V","200 V","150 V","100 V","50 V"], "range": [71.7, 269.8], "padding": 0}, "axis": null},
    "text": {"field": "s"},
    "color": {"field": "s", "type": "nominal",
      "scale": {"domain": ["400 V","350 V","300 V","250 V","200 V","150 V","100 V","50 V"], "range": ["#000000","#ff0000","#00ff00","#0000ff","#ffff00","#ff00ff","#00ffff","#59d454"]},
      "legend": null}
  }
},
{
  "data": {"values": [{}]},
  "mark": {"type": "text", "font": "Liberation Sans", "fontSize": 38, "align": "center", "baseline": "middle", "color": "black"},
  "encoding": {
    "x": {"datum": -124.3, "type": "quantitative", "scale": {"domain": [-50, 400], "nice": false, "zero": false}, "axis": null},
    "y": {"datum": 0.574, "type": "quantitative", "scale": {"domain": [0, 1.6], "nice": false, "zero": false}, "axis": null},
    "text": {"value": "V"}
  }
}
],
"resolve": {"axis": {"x": "independent", "y": "independent"}, "scale": {"y": "independent"}}
}
